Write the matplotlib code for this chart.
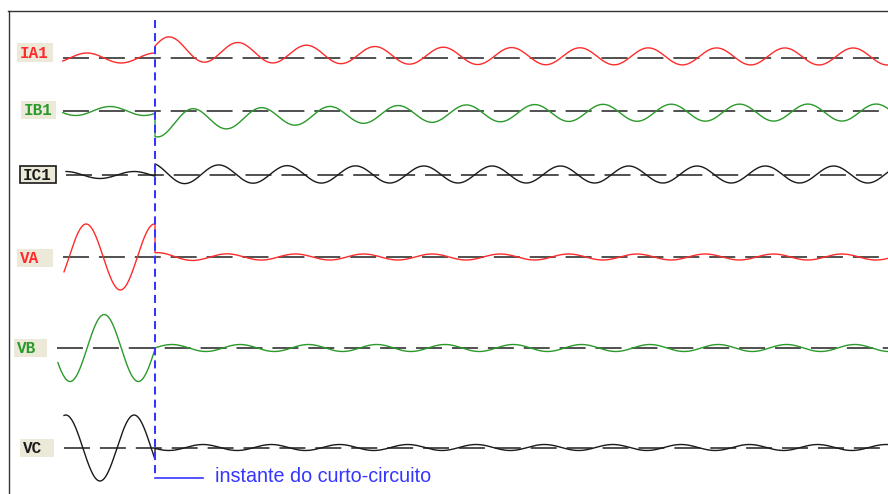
#   plot.py ~~
#
#   Redraws the oscillograph screen of a short-circuit event: three phase
#   currents and three phase voltages, with the fault instant marked by a
#   blue dashed line. Traces are rebuilt from amplitudes, peak times and decay
#   constants (60 Hz, times in ms from the fault).

import numpy as np
import matplotlib
matplotlib.use("Agg")
import matplotlib.pyplot as pyplot
from matplotlib.patches import Rectangle

###

channels = ["IA1", "IB1", "IC1", "VA", "VB", "VC"]

#   Pre-fault wave: amplitude (screen px) and time of one crest (ms)
pre_amp = [5.0, 4.5, 3.5, 33.0, 33.5, 33.0]
pre_peak_ms = [-16.6, -11.0, -5.1, -16.8, -12.4, -5.1]

#   Post-fault steady wave, its mid level, and the decaying extra parts
post_amp = [8.5, 8.5, 8.5, 3.0, 3.5, 3.0]
post_peak_ms = [3.7, 9.3, 15.6, 17.6, 4.1, 11.7]
post_mid = [1.5, -1.5, 0.5, 0.0, 0.0, 0.5]
trans_amp = [5.0, 6.0, 2.0, 1.5, 0.0, 0.0]
trans_tau_ms = [17.0, 14.6, 15.0, 8.0, 10.0, 10.0]
dc_offset = [8.0, -10.5, 1.0, 0.0, 0.0, 0.0]
dc_tau_ms = [29.0, 32.0, 15.0, 10.0, 10.0, 10.0]

#   Where each trace begins on the screen (ms)
trace_start_ms = [-22.5, -22.5, -21.7, -22.2, -23.7, -22.2]

period_ms = 1000.0 / 60.0
fault_text = "instante do curto-circuito"

###

#   Screen layout (pixels of the 888 x 494 picture)
W, H = 888, 494
FAULT_PX = 155.0
PX_PER_MS = 4.098

track_row = [58, 111, 175, 257, 348, 448]
baseline_start_px = [63, 63, 66, 63, 57, 64]
label_box = [(17, 43, 36, 19), (21, 101, 35, 18), (20, 166, 36, 17),
             (17, 249, 36, 18), (14, 339, 33, 18), (20, 439, 34, 18)]
label_border = [False, False, True, False, False, False]

RED = "#ff2b2b"
GREEN = "#2a9a2a"
BLACK = "#1a1a1a"
BLUE = "#3535ff"
trace_color = [RED, GREEN, BLACK, RED, GREEN, BLACK]


def px_to_ms(px):
    return (px - FAULT_PX) / PX_PER_MS


def wave(i, t_end):
    w = 2 * np.pi / period_ms
    t_pre = np.linspace(trace_start_ms[i], 0.0, 400)
    y_pre = pre_amp[i] * np.cos(w * (t_pre - pre_peak_ms[i]))
    t_post = np.linspace(0.0, t_end, 3000)
    amp = post_amp[i] + trans_amp[i] * np.exp(-t_post / trans_tau_ms[i])
    y_post = (amp * np.cos(w * (t_post - post_peak_ms[i]))
              + dc_offset[i] * np.exp(-t_post / dc_tau_ms[i]) + post_mid[i])
    return np.concatenate([t_pre, t_post]), np.concatenate([y_pre, y_post])

###

def main():

    fig = pyplot.figure(figsize=(W / 100, H / 100), dpi=100)
    fig.patch.set_facecolor("white")

  # Axes frame: only the left and top edges are on screen
    left, top = 8.5, 11.5
    ax = fig.add_axes([left / W, 0, 1 - left / W, (H - top) / H])
    ax.set_xlim(px_to_ms(left), px_to_ms(W))
    ax.set_ylim(H, top)
    for side in ("right", "bottom"):
        ax.spines[side].set_visible(False)
    for side in ("left", "top"):
        ax.spines[side].set_color("#333333")
        ax.spines[side].set_linewidth(1.0)
    ax.set_xticks([])
    ax.set_yticks([])

    t_end = px_to_ms(W)

    for i, name in enumerate(channels):

        row = track_row[i]

      # Dashed zero line
        ax.plot([px_to_ms(baseline_start_px[i]), t_end], [row, row],
                color="#202020", linewidth=1.1, dashes=(17, 6.5), zorder=2)

      # Signal trace
        t, y = wave(i, t_end)
        ax.plot(t, row - y, color=trace_color[i], linewidth=1.0, zorder=3,
                solid_joinstyle="round")

      # Channel label box
        bx, by, bw, bh = label_box[i]
        ax.add_patch(Rectangle((px_to_ms(bx), by + bh), bw / PX_PER_MS, -bh,
                               facecolor="#ece9d8",
                               edgecolor=BLACK if label_border[i] else "none",
                               linewidth=1.2, zorder=4))
        ax.text(px_to_ms(bx + 3), by + bh / 2 + 0.5, name,
                color=trace_color[i], fontsize=11.5, fontweight="bold",
                family="Liberation Mono", ha="left", va="center", zorder=5)

  # Fault instant marker
    ax.plot([0, 0], [20, 478], color=BLUE, linewidth=1.45, dashes=(4, 2.5),
            zorder=6)
    ax.plot([0, px_to_ms(203)], [478, 478], color=BLUE, linewidth=1.2,
            zorder=6)
    ax.text(px_to_ms(215), 476, fault_text, color=BLUE, fontsize=14.2,
            family="Liberation Sans", ha="left", va="center", zorder=6)

    fig.savefig("out.png", dpi=100, facecolor="white")

###

if __name__ == "__main__":
    main()
